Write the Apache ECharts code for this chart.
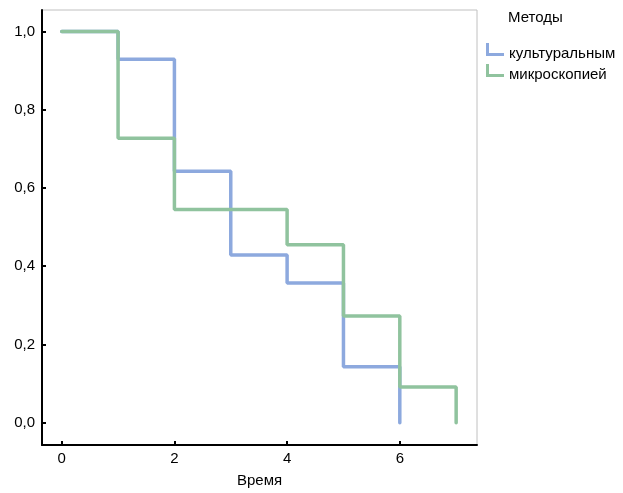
<!DOCTYPE html>
<html>
<head>
<meta charset="utf-8">
<script src="https://cdn.jsdelivr.net/npm/echarts@6/dist/echarts.min.js"></script>
<style>html,body{margin:0;padding:0;background:#fff;}#c{width:623px;height:493px;}</style>
</head>
<body>
<div id="c"></div>
<script>
const legendTitle = 'Методы';
const xName = 'Время';
const xTicks = [0, 2, 4, 6];
const yTicks = [0, 0.2, 0.4, 0.6, 0.8, 1.0];
const seriesNames = ['культуральным', 'микроскопией'];
const cultTimes = [0, 1, 2, 3, 4, 5, 6];
const cultValues = [1.0, 0.929, 0.643, 0.429, 0.357, 0.143, 0.0];
const microTimes = [0, 1, 2, 4, 5, 6, 7];
const microValues = [1.0, 0.727, 0.545, 0.455, 0.273, 0.091, 0.0];

const FONT = 'Liberation Sans, Arial, Helvetica, sans-serif';
const FS = 15;
const colors = ['#8DA9DE', '#90C39E'];
const zip = (a, b) => a.map((t, i) => [t, b[i]]);
const fmt = v => v.toFixed(1).replace('.', ',');
const icon = 'path://M0,0 L3,0 L3,10 L18,10 L18,13 L0,13 Z M0,22 L0.01,22 L0,21.99 Z';

const chart = echarts.init(document.getElementById('c'), null, {renderer: 'canvas'});
chart.setOption({
  animation: false,
  backgroundColor: '#fff',
  textStyle: {fontFamily: FONT},
  title: {
    text: legendTitle, left: 508, top: 10, padding: 0,
    textStyle: {fontSize: FS, fontWeight: 'normal', color: '#000', fontFamily: FONT}
  },
  legend: {
    orient: 'vertical', left: 486, top: 43, padding: 0,
    itemWidth: 18, itemHeight: 22, itemGap: -1,
    icon: icon,
    textStyle: {fontSize: FS, color: '#000', fontFamily: FONT, lineHeight: 16},
    data: seriesNames
  },
  grid: {left: 42, right: 146, top: 10, bottom: 43, show: true, borderColor: '#c0c0c0', borderWidth: 1, containLabel: false},
  xAxis: {
    type: 'value', min: -0.35, max: 7.37,
    name: xName, nameLocation: 'middle', nameGap: 28,
    nameTextStyle: {fontSize: FS, color: '#000', fontFamily: FONT},
    axisLine: {show: true, onZero: false, lineStyle: {color: '#000', width: 2}},
    axisTick: {show: true, inside: true, length: 4, lineStyle: {color: '#000', width: 2}, customValues: xTicks},
    axisLabel: {color: '#000', fontSize: FS, margin: 6, fontFamily: FONT, customValues: xTicks, formatter: v => String(v)},
    splitLine: {show: false}
  },
  yAxis: {
    type: 'value', min: -0.057, max: 1.055,
    axisLine: {show: true, onZero: false, lineStyle: {color: '#000', width: 2}},
    axisTick: {show: true, inside: true, length: 4, lineStyle: {color: '#000', width: 2}, customValues: yTicks},
    axisLabel: {color: '#000', fontSize: FS, margin: 7, fontFamily: FONT, customValues: yTicks, formatter: fmt},
    splitLine: {show: false}
  },
  series: [
    {
      name: seriesNames[0], type: 'line', step: 'end', showSymbol: false, symbol: 'none',
      data: zip(cultTimes, cultValues), color: colors[0],
      lineStyle: {color: colors[0], width: 3.5, cap: 'round'}, z: 2
    },
    {
      name: seriesNames[1], type: 'line', step: 'end', showSymbol: false, symbol: 'none',
      data: zip(microTimes, microValues), color: colors[1],
      lineStyle: {color: colors[1], width: 3.5, cap: 'round'}, z: 3
    }
  ]
});
</script>
</body>
</html>
